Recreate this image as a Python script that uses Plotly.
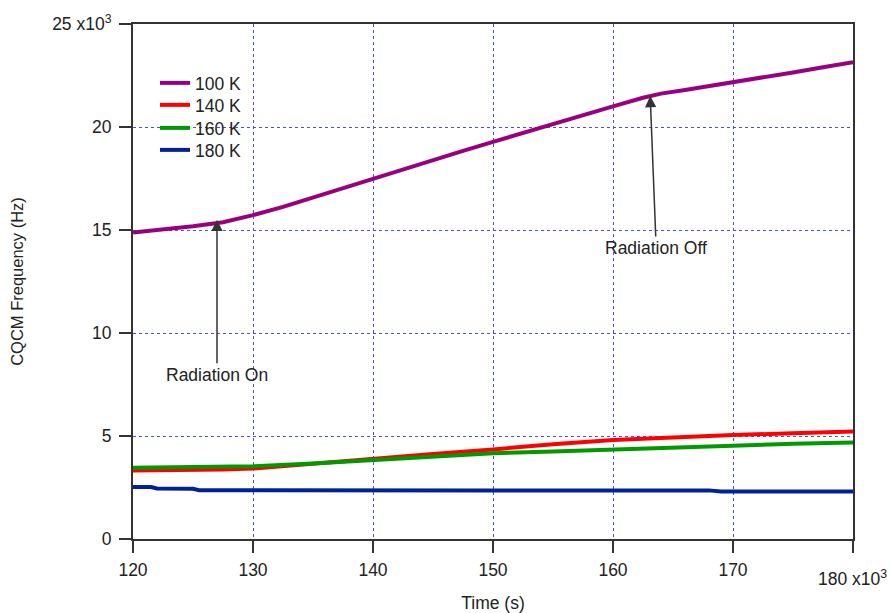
import plotly.graph_objects as go

# ---- data (time in 10^3 s, frequency in 10^3 Hz) ----
t_100 = [120, 122.5, 125, 127.5, 130, 132.5, 135, 137.5, 140, 142.5, 145, 147.5, 150,
         152.5, 155, 157.5, 160, 162.5, 164, 166, 168, 170, 172.5, 175, 177.5, 180]
f_100 = [14.88, 15.02, 15.18, 15.38, 15.72, 16.12, 16.58, 17.02, 17.46, 17.92, 18.38, 18.84, 19.28,
         19.72, 20.14, 20.58, 21.0, 21.42, 21.62, 21.8, 21.98, 22.2, 22.43, 22.65, 22.9, 23.15]

t_140 = [120, 122, 125, 127.5, 130, 135, 140, 145, 150, 155, 160, 165, 170, 175, 180]
f_140 = [3.32, 3.33, 3.35, 3.37, 3.42, 3.66, 3.92, 4.13, 4.35, 4.6, 4.8, 4.93, 5.05, 5.13, 5.22]

t_160 = [120, 125, 127.5, 130, 135, 140, 145, 150, 155, 160, 165, 170, 175, 180]
f_160 = [3.46, 3.48, 3.52, 3.53, 3.66, 3.83, 4.0, 4.16, 4.25, 4.35, 4.45, 4.55, 4.62, 4.68]

t_180 = [120, 121.5, 122, 125, 125.5, 130, 140, 150, 160, 168, 169, 180]
f_180 = [2.52, 2.52, 2.45, 2.44, 2.37, 2.36, 2.36, 2.36, 2.36, 2.36, 2.31, 2.31]

series_names = ["100 K", "140 K", "160 K", "180 K"]
series_colors = ["#990080", "#ff0000", "#009900", "#002299"]

x_ticks = [120, 130, 140, 150, 160, 170, 180]
x_ticktext = ["120", "130", "140", "150", "160", "170", " "]
y_ticks = [0, 5, 10, 15, 20, 25]
y_ticktext = ["0", "5", "10", "15", "20", "25 x10<sup>3</sup>"]

FONT = "Liberation Sans, Arial, sans-serif"
TXT = "#222222"
FS = 17.5

fig = go.Figure()
legend_ids = ["legend", "legend2", "legend3", "legend4"]
for t, f, name, col, lg in zip([t_100, t_140, t_160, t_180], [f_100, f_140, f_160, f_180],
                               series_names, series_colors, legend_ids):
    fig.add_trace(go.Scatter(x=t, y=f, mode="lines", name=name, legend=lg,
                             line=dict(color=col, width=4)))

axis_common = dict(showline=True, linecolor="#333333", linewidth=2, mirror=True,
                   ticks="outside", ticklen=12, tickwidth=2, tickcolor="#333333",
                   showgrid=True, gridcolor="#4a4aff", gridwidth=1.2, griddash="dot",
                   zeroline=False, automargin=False,
                   tickfont=dict(family=FONT, size=FS, color=TXT))

fig.update_xaxes(range=[120, 180], tickvals=x_ticks, ticktext=x_ticktext,
                 ticklabelstandoff=2,
                 title=dict(text="Time (s)", font=dict(family=FONT, size=FS, color=TXT),
                            standoff=18),
                 **axis_common)
fig.update_yaxes(range=[0, 25], tickvals=y_ticks, ticktext=y_ticktext,
                 ticklabelstandoff=4,
                 title=dict(text="CQCM Frequency (Hz)", font=dict(family=FONT, size=16.5, color=TXT),
                            standoff=24),
                 **axis_common)

# 180 x10^3 label placed lower, as in the reference
fig.add_annotation(x=180, y=0, xref="x", yref="y", text="180 x10<sup>3</sup>",
                   showarrow=False, yshift=-39, xshift=-1,
                   font=dict(family=FONT, size=FS, color=TXT))

arrow_common = dict(xref="x", yref="y", axref="x", ayref="y", showarrow=True,
                    arrowhead=2, arrowsize=1.5, arrowwidth=1.5, arrowcolor="#333333",
                    font=dict(family=FONT, size=FS, color=TXT))
fig.add_annotation(x=127.0, y=15.5, ax=127.0, ay=7.97, text="Radiation On", **arrow_common)
fig.add_annotation(x=163.1, y=21.5, ax=163.6, ay=14.13, text="Radiation Off", **arrow_common)

# one legend per entry so the row spacing matches the reference
row_px = [83, 105, 128, 150]
legend_layout = {}
for lg, ypx in zip(legend_ids, row_px):
    legend_layout[lg] = dict(x=(155 - 133) / 720, y=(539 - ypx) / 515,
                             xanchor="left", yanchor="middle",
                             bgcolor="rgba(0,0,0,0)",
                             font=dict(family=FONT, size=FS, color=TXT),
                             itemwidth=30)

fig.update_layout(
    width=893, height=613,
    margin=dict(l=133, r=40, t=24, b=74, autoexpand=False),
    plot_bgcolor="white", paper_bgcolor="white",
    font=dict(family=FONT, size=FS, color=TXT),
    showlegend=True,
    **legend_layout,
)

fig.write_html("out.html")
